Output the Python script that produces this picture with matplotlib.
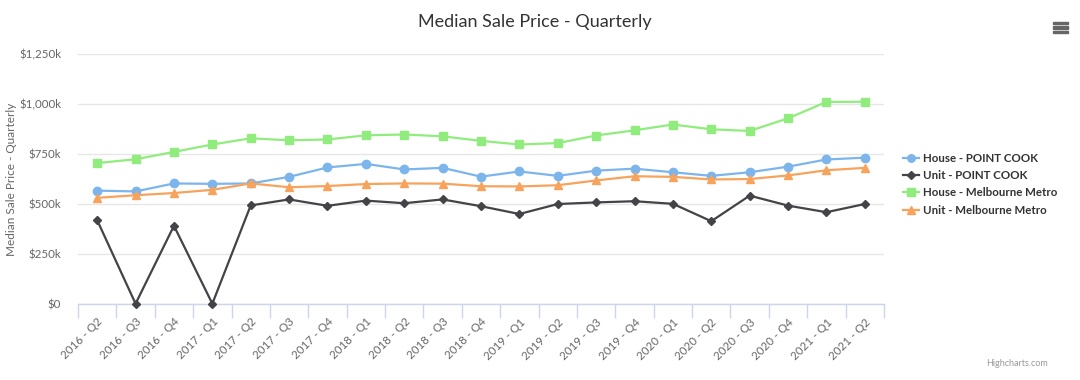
import matplotlib
matplotlib.use("Agg")
import matplotlib.pyplot as plt
from matplotlib.ticker import FixedLocator, FuncFormatter
from matplotlib.patches import Rectangle

plt.rcParams['font.family'] = ['Lato', 'DejaVu Sans']

categories = ["2016 - Q2", "2016 - Q3", "2016 - Q4", "2017 - Q1", "2017 - Q2", "2017 - Q3",
              "2017 - Q4", "2018 - Q1", "2018 - Q2", "2018 - Q3", "2018 - Q4", "2019 - Q1",
              "2019 - Q2", "2019 - Q3", "2019 - Q4", "2020 - Q1", "2020 - Q2", "2020 - Q3",
              "2020 - Q4", "2021 - Q1", "2021 - Q2"]

house_point_cook = [566, 562, 602, 600, 602, 635, 682, 700, 672, 680, 636, 662, 640, 666,
                    676, 658, 640, 658, 686, 722, 731]
unit_point_cook = [418, 0, 390, 0, 492, 522, 490, 516, 503, 522, 488, 449, 499, 507,
                   513, 500, 413, 541, 491, 458, 499]
house_melb = [704, 723, 760, 797, 828, 818, 822, 843, 847, 838, 815, 797, 804, 842,
              868, 897, 873, 865, 928, 1010, 1011]
unit_melb = [530, 543, 554, 570, 602, 583, 589, 599, 602, 601, 588, 587, 593, 617,
             638, 635, 622, 624, 642, 668, 680]

series_names = ["House - POINT COOK", "Unit - POINT COOK",
                "House - Melbourne Metro", "Unit - Melbourne Metro"]
series_values = [house_point_cook, unit_point_cook, house_melb, unit_melb]
colors = ["#7cb5ec", "#434348", "#90ed7d", "#f7a35c"]
markers = ["o", "D", "s", "^"]
msizes = [6, 4.5, 5.8, 6]

y_ticks = [0, 250, 500, 750, 1000, 1250]

W, H = 1080, 380
fig = plt.figure(figsize=(W / 100, H / 100), dpi=100)
fig.patch.set_facecolor("white")
left, right, bottom, top = 78, 884, 303.7, 54
ax = fig.add_axes([left / W, 1 - bottom / H, (right - left) / W, (bottom - top) / H])

x = list(range(len(categories)))
lines = []
for name, vals, c, m, ms in zip(series_names, series_values, colors, markers, msizes):
    ln, = ax.plot(x, vals, color=c, lw=1.6, marker=m, ms=ms, mec=c, mfc=c,
                  label=name, zorder=3, clip_on=False)
    lines.append(ln)

ax.set_xlim(-0.5, len(categories) - 0.5)
ax.set_ylim(0, 1250)

ax.yaxis.set_major_locator(FixedLocator(y_ticks))
def fmt(v, pos):
    v = int(round(v))
    if v == 0:
        return "$0"
    return "${:,}k".format(v)
ax.yaxis.set_major_formatter(FuncFormatter(fmt))
ax.grid(axis="y", color="#e6e6e6", lw=1, zorder=0)
ax.set_axisbelow(True)

ax.set_xticks(x)
ax.set_xticklabels(categories, rotation=45, ha="right", rotation_mode="anchor",
                   fontsize=8.3, color="#666666")
ax.tick_params(axis="x", length=0, pad=9)
ax.set_xticks([i - 0.5 for i in range(len(categories) + 1)], minor=True)
ax.tick_params(axis="x", which="minor", length=10, color="#ccd6eb", width=1)
ax.tick_params(axis="y", length=0, pad=12, labelsize=8.3, labelcolor="#666666")

for s in ["top", "right", "left"]:
    ax.spines[s].set_visible(False)
ax.spines["bottom"].set_color("#ccd6eb")
ax.spines["bottom"].set_linewidth(1)

fig.text(12 / W, 1 - 179 / H, "Median Sale Price - Quarterly", rotation=90,
         ha="center", va="center", fontsize=8.5, color="#666666")

fig.text(535 / W, 1 - 22 / H, "Median Sale Price - Quarterly", ha="center", va="center",
         fontsize=13, color="#333333")

leg = fig.legend(handles=lines, loc="upper left", bbox_to_anchor=(898 / W, 1 - 148 / H),
                 frameon=False, fontsize=8.3, handlelength=1.4, handletextpad=0.4,
                 labelspacing=0.55, borderaxespad=0, markerscale=0.9)
for t in leg.get_texts():
    t.set_fontweight("bold")
    t.set_color("#333333")

# menu icon
for yy in [23, 27.5, 32]:
    fig.patches.append(Rectangle((1053 / W, 1 - (yy + 1) / H), 15 / W, 2 / H,
                                 transform=fig.transFigure, color="#666666"))

fig.text(1048 / W, 1 - 363 / H, "Highcharts.com", ha="right", va="center",
         fontsize=6.5, color="#999999")

fig.savefig("out.png", dpi=100, facecolor="white")
